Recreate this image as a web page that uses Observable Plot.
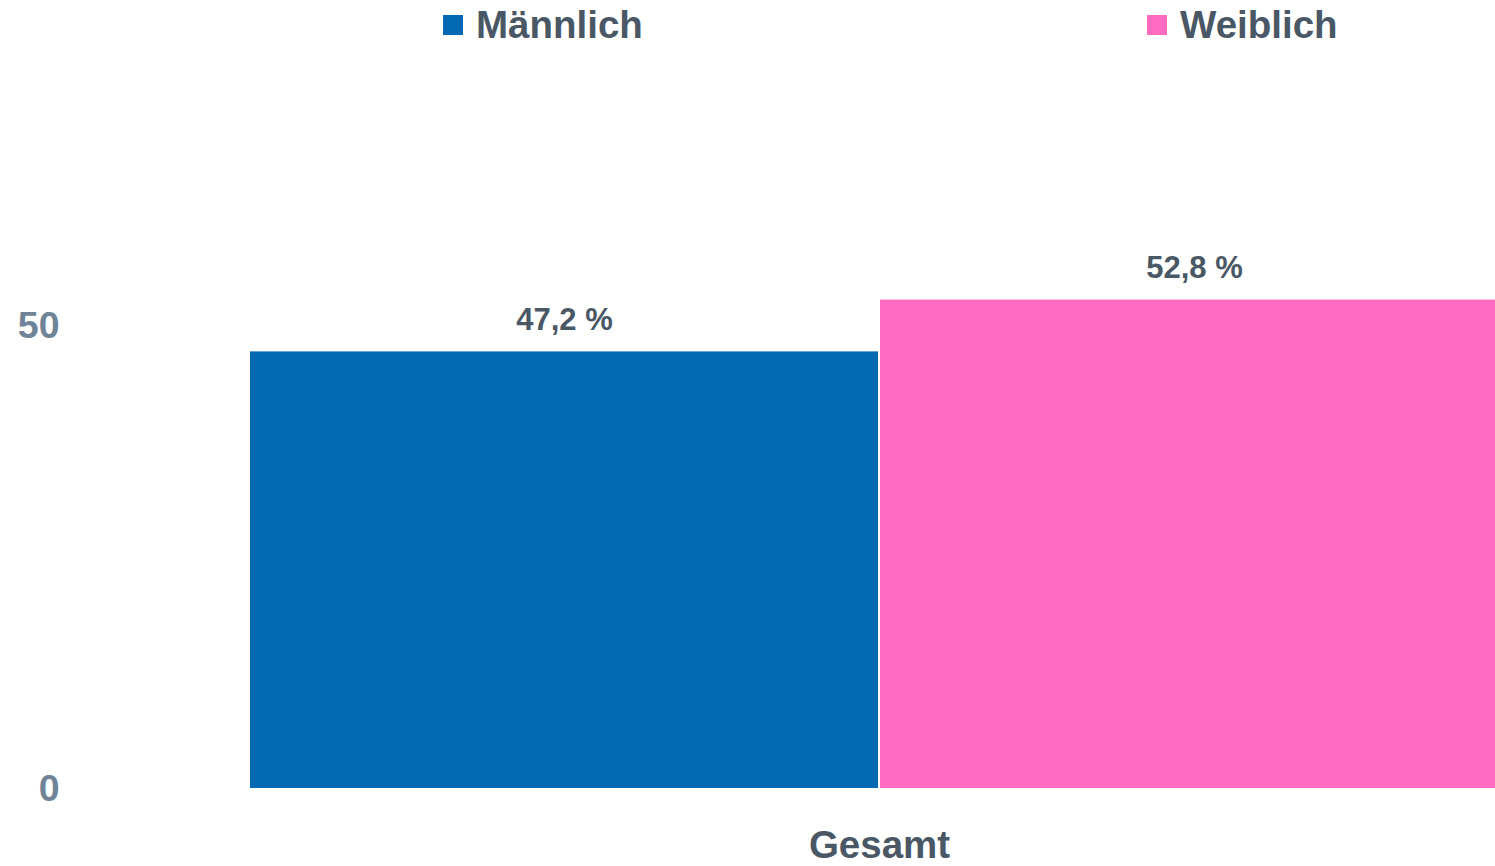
<!DOCTYPE html>
<html>
<head>
<meta charset="utf-8">
<script src="https://cdn.jsdelivr.net/npm/d3@7"></script>
<script src="https://cdn.jsdelivr.net/npm/@observablehq/plot@0.6"></script>
<style>
  html, body { margin: 0; padding: 0; background: #fff; overflow: hidden; }
  body { font-family: "Liberation Sans", Arial, sans-serif; width: 1495px; height: 866px; }
  #legend { position: relative; height: 50px; font-weight: bold; font-size: 38.5px; line-height: 50px; color: #4a5866; }
  .item { position: absolute; top: 0; white-space: nowrap; }
  .sw { display: inline-block; width: 20px; height: 20px; vertical-align: top; margin-top: 15px; margin-right: 13px; }
</style>
</head>
<body>
<div id="legend"></div>
<div id="chart"></div>
<script>
const groups = ["Gesamt"];
const categories = ["Männlich", "Weiblich"];
const values = [47.2, 52.8];
const colors = ["#0369b3", "#ff6bbf"];
const yTicks = [0, 50];

const data = categories.map((c, i) => ({group: groups[0], sex: c, value: values[i]}));
const fmt = v => v.toFixed(1).replace(".", ",") + " %";

const legendPos = [443, 1147];
const legend = document.getElementById("legend");
categories.forEach((c, i) => {
  const it = document.createElement("span");
  it.className = "item";
  it.style.left = legendPos[i] + "px";
  it.innerHTML = `<span class="sw" style="background:${colors[i]}"></span>${c}`;
  legend.appendChild(it);
});

const chart = Plot.plot({
  width: 1495,
  height: 816,
  marginLeft: 249,
  marginRight: -14,
  marginTop: 183,
  marginBottom: 78,
  style: {fontFamily: "Liberation Sans, Arial, sans-serif", fontWeight: "bold", background: "#fff"},
  fx: {domain: groups, padding: 0, label: null},
  x: {domain: categories, padding: 0, axis: null},
  y: {domain: [0, 60], ticks: yTicks, label: null},
  color: {domain: categories, range: colors},
  marks: [
    Plot.axisY({ticks: yTicks, tickSize: 0, tickPadding: 190, fontSize: 37.5, fill: "#6f8497", label: null}),
    Plot.axisFx({anchor: "bottom", tickSize: 0, tickPadding: 42, fontSize: 38.5, fill: "#4a5866", label: null}),
    Plot.barY(data, {fx: "group", x: "sex", y: "value", fill: "sex", insetLeft: 1, insetRight: 1}),
    Plot.text(data, {fx: "group", x: "sex", y: "value", text: d => fmt(d.value), dy: -32, fontSize: 31, fill: "#4a5866", lineAnchor: "middle"})
  ]
});
document.getElementById("chart").appendChild(chart);
</script>
</body>
</html>
